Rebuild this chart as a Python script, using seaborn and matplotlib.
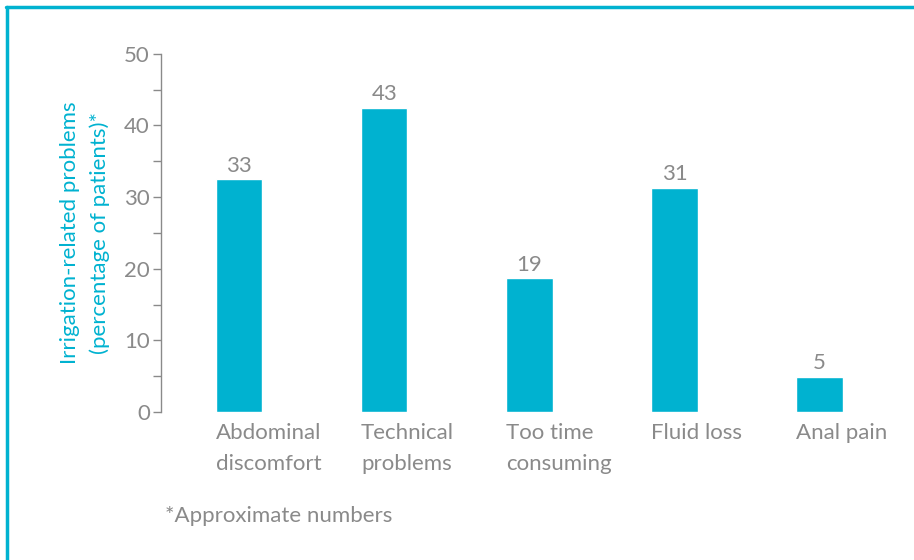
import matplotlib
matplotlib.use('Agg')
import matplotlib.pyplot as plt
from matplotlib.lines import Line2D
from matplotlib.ticker import MultipleLocator
import seaborn as sns
import pandas as pd

# chart data
categories = ['Abdominal\ndiscomfort', 'Technical\nproblems', 'Too time\nconsuming',
              'Fluid loss', 'Anal pain']
bar_heights = [32.5, 42.5, 18.7, 31.3, 4.9]
bar_labels = ['33', '43', '19', '31', '5']

cyan = '#00b2d0'
grey = '#8a8a8a'
fs = 16

sns.set_style('white')
plt.rcParams['font.family'] = ['Lato', 'DejaVu Sans']

df = pd.DataFrame({'category': categories, 'value': bar_heights})

fig = plt.figure(figsize=(9.14, 5.6), dpi=100)
ax = fig.add_axes([0.176, 0.264, 0.80, 0.64])

width = 0.32
sns.barplot(data=df, x='category', y='value', color=cyan, saturation=1,
            width=width, ax=ax)

# value labels above bars
for i, (h, lab) in enumerate(zip(bar_heights, bar_labels)):
    ax.text(i, h + 0.5, lab, ha='center', va='bottom', fontsize=fs,
            color=grey)

ax.set_ylim(0, 50)
ax.set_xlim(-0.54, 4.5)
ax.yaxis.set_major_locator(MultipleLocator(10))
ax.yaxis.set_minor_locator(MultipleLocator(5))
ax.tick_params(axis='y', which='both', direction='out', length=6, width=1,
               color=grey, labelcolor=grey, labelsize=fs, left=True, pad=2)

# category labels left-aligned under the bar's left edge
ax.set_xticks([i - width / 2 for i in range(len(categories))])
ax.set_xticklabels(categories, ha='left', fontsize=fs, color=grey,
                   linespacing=1.7)
ax.tick_params(axis='x', length=0, pad=8)

for s in ['top', 'right', 'bottom']:
    ax.spines[s].set_visible(False)
ax.spines['left'].set_color(grey)
ax.spines['left'].set_linewidth(1)

ax.set_xlabel('')
ax.set_ylabel('Irrigation-related problems\n(percentage of patients)*',
              color=cyan, fontsize=fs, linespacing=1.6, labelpad=10)

fig.text(165 / 914, 1 - 516 / 560, '*Approximate numbers', fontsize=fs,
         color=grey, va='center', ha='left')

# frame lines (left and top)
fig.add_artist(Line2D([7.5 / 914, 7.5 / 914], [0, 1 - 6.5 / 560],
                      transform=fig.transFigure, color=cyan, lw=2.5))
fig.add_artist(Line2D([6.3 / 914, 1], [1 - 6.5 / 560, 1 - 6.5 / 560],
                      transform=fig.transFigure, color=cyan, lw=2.5))

fig.savefig('out.png', dpi=100, facecolor='white')
